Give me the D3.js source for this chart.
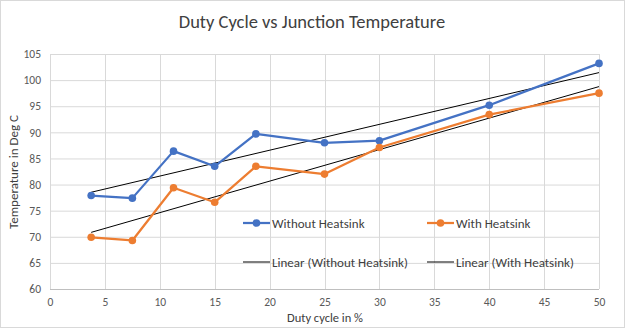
<!DOCTYPE html>
<html><head><meta charset="utf-8">
<script src="https://cdn.jsdelivr.net/npm/d3@7"></script>
<style>body{margin:0;background:#fff}</style>
</head><body>
<svg id="c" width="625" height="328"></svg>
<script>
const dutyCycle = [3.75, 7.5, 11.25, 15, 18.75, 25, 30, 40, 50];
const withoutHeatsink = [77.9, 77.4, 86.4, 83.5, 89.7, 88.0, 88.4, 95.2, 103.2];
const withHeatsink = [69.9, 69.3, 79.4, 76.6, 83.5, 82.0, 87.1, 93.4, 97.5];
const xTicks = [0,5,10,15,20,25,30,35,40,45,50];
const yTicks = [60,65,70,75,80,85,90,95,100,105];

const font = "Carlito, Lato, 'Open Sans', sans-serif";
const svg = d3.select("#c");
svg.append("rect").attr("x",0.5).attr("y",0.5).attr("width",624).attr("height",327)
  .attr("fill","#fff").attr("stroke","#d9d9d9");

const x = d3.scaleLinear().domain([0,50]).range([50,599]);
const y = d3.scaleLinear().domain([60,105]).range([289,54]);

// gridlines
svg.append("g").selectAll("line").data(yTicks).join("line")
  .attr("x1",50).attr("x2",599).attr("y1",d=>y(d)+0.5).attr("y2",d=>y(d)+0.5)
  .attr("stroke","#d9d9d9");
svg.append("g").selectAll("line").data(xTicks).join("line")
  .attr("y1",54).attr("y2",289).attr("x1",d=>Math.round(x(d))+0.5).attr("x2",d=>Math.round(x(d))+0.5)
  .attr("stroke","#d9d9d9");
svg.append("line").attr("x1",50).attr("x2",599).attr("y1",289.5).attr("y2",289.5).attr("stroke","#bfbfbf");

// axes labels via d3 axes
const xa = svg.append("g").attr("transform","translate(0,289)")
  .call(d3.axisBottom(x).tickValues(xTicks).tickSize(0).tickPadding(9));
const ya = svg.append("g").attr("transform","translate(50,0)")
  .call(d3.axisLeft(y).tickValues(yTicks).tickSize(0).tickPadding(9));
[xa,ya].forEach(a=>{a.select(".domain").remove();
  a.selectAll("text").attr("fill","#595959").attr("font-family",font).attr("font-size","11.5px");});

// trendlines (least squares from data)
function fit(xs, ys){
  const n=xs.length, mx=d3.mean(xs), my=d3.mean(ys);
  let sxy=0,sxx=0; for(let i=0;i<n;i++){sxy+=(xs[i]-mx)*(ys[i]-my);sxx+=(xs[i]-mx)**2;}
  const b=sxy/sxx, a=my-b*mx; return v=>a+b*v;
}
const line = d3.line().x(d=>x(d[0])).y(d=>y(d[1]));
[withoutHeatsink, withHeatsink].forEach(s=>{
  const f = fit(dutyCycle, s);
  const x0=d3.min(dutyCycle), x1=d3.max(dutyCycle);
  svg.append("path").attr("d",line([[x0,f(x0)],[x1,f(x1)]])).attr("fill","none")
    .attr("stroke","#000").attr("stroke-width",1);
});

const series = [{v:withoutHeatsink,c:"#4472C4"},{v:withHeatsink,c:"#ED7D31"}];
series.forEach(s=>{
  const pts = dutyCycle.map((d,i)=>[d,s.v[i]]);
  svg.append("path").attr("d",line(pts)).attr("fill","none").attr("stroke",s.c)
    .attr("stroke-width",2.25).attr("stroke-linejoin","round");
  svg.append("g").selectAll("circle").data(pts).join("circle")
    .attr("cx",d=>x(d[0])).attr("cy",d=>y(d[1])).attr("r",3.8).attr("fill",s.c);
});

// legend
const leg = [
  {t:"Without Heatsink",c:"#4472C4",m:true,x:243,y:223},
  {t:"With Heatsink",c:"#ED7D31",m:true,x:427,y:223},
  {t:"Linear (Without Heatsink)",c:"#000",m:false,x:243,y:262},
  {t:"Linear (With Heatsink)",c:"#000",m:false,x:427,y:262}
];
leg.forEach(l=>{
  svg.append("line").attr("x1",l.x).attr("x2",l.x+27).attr("y1",l.y).attr("y2",l.y)
    .attr("stroke",l.c).attr("stroke-width",l.m?2.25:1);
  if(l.m) svg.append("circle").attr("cx",l.x+13.5).attr("cy",l.y).attr("r",3.8).attr("fill",l.c);
  svg.append("text").attr("x",l.x+29).attr("y",l.y+4.5).text(l.t)
    .attr("font-family",font).attr("font-size","13px").attr("fill","#404040");
});

svg.append("text").attr("x",312).attr("y",28).attr("text-anchor","middle")
  .text("Duty Cycle vs Junction Temperature").attr("font-family",font)
  .attr("font-size","18.5px").attr("fill","#404040");
svg.append("text").attr("x",325).attr("y",322).attr("text-anchor","middle")
  .text("Duty cycle in %").attr("font-family",font).attr("font-size","12.5px").attr("fill","#404040");
svg.append("text").attr("transform","translate(18,172) rotate(-90)").attr("text-anchor","middle")
  .text("Temperature in Deg C").attr("font-family",font).attr("font-size","13px").attr("fill","#404040");
</script>
</body></html>
